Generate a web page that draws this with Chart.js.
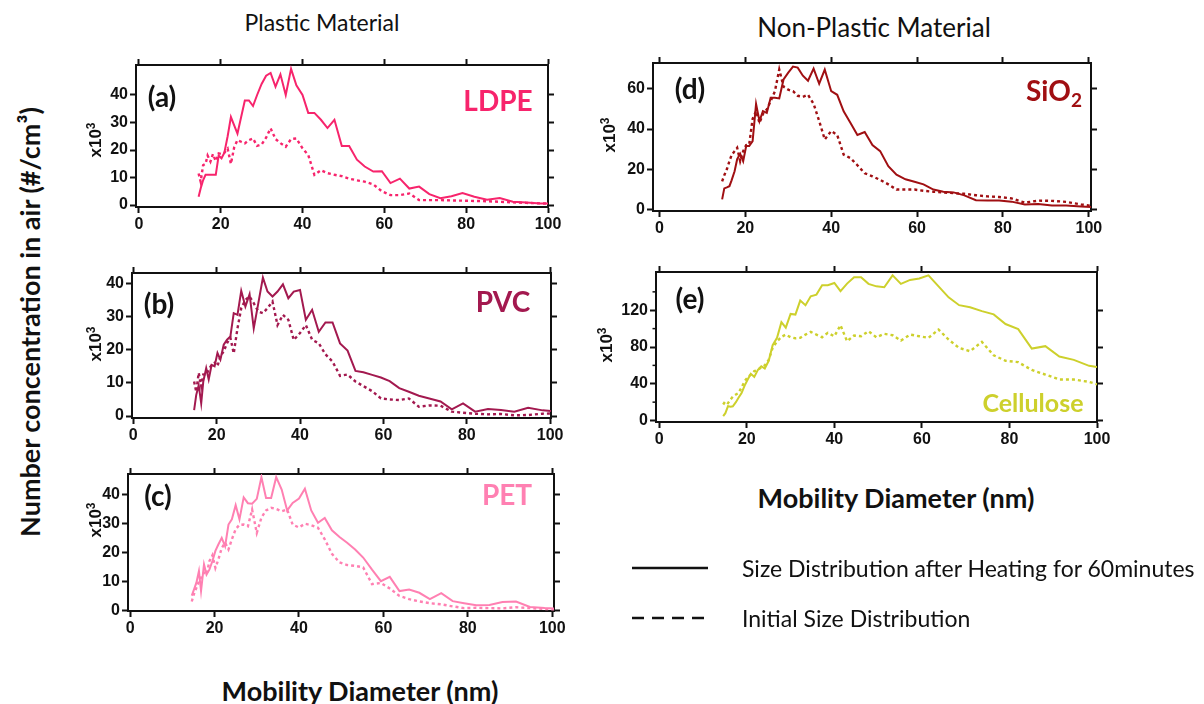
<!DOCTYPE html>
<html>
<head>
<meta charset="utf-8">
<script src="https://cdn.jsdelivr.net/npm/chart.js@4.4.0/dist/chart.umd.min.js"></script>
<style>
  body { margin: 0; background: #fff; }
  #page { position: relative; width: 1204px; height: 704px; overflow: hidden; font-family: Lato, "Open Sans", sans-serif; }
  canvas { position: absolute; }
  .txt { position: absolute; white-space: nowrap; transform: translate(-50%, -50%); color: #111; }
  .rot { transform: translate(-50%, -50%) rotate(-90deg); }
  .head { font-size: 26px; }
  .big { font-size: 27px; font-weight: bold; }
  .tag { font-size: 28px; font-weight: bold; }
  .unit { font-family: "Liberation Sans", Arial, sans-serif; font-weight: bold; font-size: 17px; }
  .unit sup { font-size: 12px; }
  .leg { position: absolute; font-size: 23px; color: #111; transform: translateY(-50%); white-space: nowrap; }
</style>
</head>
<body>
<div id="page">
  <canvas id="chA"></canvas>
  <canvas id="chB"></canvas>
  <canvas id="chC"></canvas>
  <canvas id="chD"></canvas>
  <canvas id="chE"></canvas>

  <div class="txt head" style="left:322px;top:22px;font-size:23px">Plastic Material</div>
  <div class="txt head" style="left:874px;top:27px">Non-Plastic Material</div>
  <div class="txt big rot" style="left:29px;top:322px">Number concentration in air (#/cm³)</div>
  <div class="txt big" style="left:360px;top:690px">Mobility Diameter (nm)</div>
  <div class="txt big" style="left:896px;top:497px">Mobility Diameter (nm)</div>

  <div class="txt unit rot" style="left:95px;top:140px">x10<sup>3</sup></div>
  <div class="txt unit rot" style="left:95px;top:344px">x10<sup>3</sup></div>
  <div class="txt unit rot" style="left:95px;top:520px">x10<sup>3</sup></div>
  <div class="txt unit rot" style="left:609px;top:135px">x10<sup>3</sup></div>
  <div class="txt unit rot" style="left:606px;top:345px">x10<sup>3</sup></div>

  <div class="txt tag" style="left:162px;top:96px">(a)</div>
  <div class="txt tag" style="left:498px;top:100px;color:#f7246c">LDPE</div>
  <div class="txt tag" style="left:159px;top:303px">(b)</div>
  <div class="txt tag" style="left:503px;top:301px;color:#a3194f">PVC</div>
  <div class="txt tag" style="left:158px;top:495px">(c)</div>
  <div class="txt tag" style="left:507px;top:494px;color:#ff80b2">PET</div>
  <div class="txt tag" style="left:690px;top:88px">(d)</div>
  <div class="txt tag" style="left:1054px;top:92px;color:#a00f12">SiO<sub style="font-size:19px">2</sub></div>
  <div class="txt tag" style="left:690px;top:298px">(e)</div>
  <div class="txt tag" style="left:1033px;top:402px;color:#cdd02c;font-size:25px">Cellulose</div>

  <svg style="position:absolute;left:0;top:0" width="1204" height="704">
    <line x1="632" y1="568" x2="708" y2="568" stroke="#111" stroke-width="2.5"/>
    <line x1="632" y1="618" x2="708" y2="618" stroke="#111" stroke-width="2.5" stroke-dasharray="12,8"/>
  </svg>
  <div class="leg" style="left:742px;top:568px">Size Distribution after Heating for 60minutes</div>
  <div class="leg" style="left:742px;top:618px">Initial Size Distribution</div>
</div>

<script>
// SMPS bin mid-point diameters (nm)
const diam = [
  14.6, 15.1, 15.7, 16.3, 16.8, 17.5, 18.1, 18.8, 19.5, 20.2,
  20.9, 21.7, 22.5, 23.3, 24.1, 25.0, 25.9, 26.9, 27.9, 28.9,
  30.0, 31.1, 32.2, 33.4, 34.6, 35.9, 37.2, 38.5, 40.0, 41.4,
  42.9, 44.5, 46.1, 47.8, 49.6, 51.4, 53.3, 55.2, 57.3, 59.4,
  61.5, 63.8, 66.1, 68.5, 71.0, 73.7, 76.4, 79.1, 82.0, 85.1,
  88.2, 91.4, 94.7, 98.2, 101.8,
];

// number concentration, x10^3 #/cm3
const ldpeHeated = [
  3, 6, 9, 11, 11, 11, 11, 11, 18, 17,
  19, 25, 32, 29, 26, 32, 38, 38, 36, 40,
  44, 47, 48, 43, 47.5, 40, 49.5, 43.5, 40, 33.5,
  33.5, 31, 28, 31, 21.5, 21.5, 16.5, 14, 12.2, 12.3,
  8, 9.6, 6, 6.7, 4, 2.5, 3.2, 4.4, 3, 1.9,
  2.6, 1.2, 0.9, 0.6, 0.5,
];
const ldpeInitial = [
  11.5, 8.5, 14.5, 15, 18, 15.8, 18.5, 16, 18.8, 18.5,
  19, 20.5, 15, 21, 23.6, 23, 22.4, 23.6, 24.2, 21.5,
  22, 24.5, 27.9, 24, 22.5, 21.2, 24, 24.2, 20.6, 18.2,
  11, 12.7, 11.6, 11, 10.5, 9.6, 9, 8.5, 7.5, 5,
  3.6, 3.6, 4.2, 1.8, 1.8, 1.8, 1.7, 1.6, 1.5, 1.4,
  1.2, 1.0, 0.8, 0.6, 0.5,
];

const pvcHeated = [
  1.8, 6.3, 9.3, 3.8, 10.4, 14.4, 11, 15.4, 15, 19,
  17, 21.5, 23, 24, 31, 30.5, 37.7, 33, 36.7, 26.4,
  34, 41.7, 37.5, 36, 37.5, 39.7, 35.5, 37.5, 38, 29,
  32, 25.4, 28.2, 28.2, 21.9, 19.7, 13.6, 13.2, 12.4, 11.6,
  10.5, 8.4, 7.3, 6.1, 5.3, 4.4, 2, 3.8, 1.3, 2.1,
  1.8, 1.3, 2.5, 1.7, 1.4,
];
const pvcInitial = [
  10.4, 7.3, 13, 9, 12.5, 12.4, 14, 15.4, 16, 15,
  18, 19.5, 22, 23.6, 18.9, 26.4, 32.5, 35, 36, 34,
  31.5, 31, 32.5, 34.5, 27.4, 30.5, 29, 22.9, 25, 27.4,
  23, 21.9, 18.6, 16.4, 12.1, 12.5, 10.4, 9, 7.5, 5.3,
  5, 4.8, 5.3, 2.8, 3.2, 3.1, 1.3, 1, 0.7, 0.5,
  0.6, 0.2, 0.3, 0.7, 0.8,
];

const petHeated = [
  5, 7, 9.5, 13.5, 6.6, 15.8, 12.3, 14.1, 17, 20.5,
  22.7, 25, 22.1, 29.6, 31.4, 36.3, 31.4, 39, 37, 36.8,
  38.5, 46, 38.8, 38.8, 46, 41.7, 34.5, 37.1, 38.6, 42,
  34.5, 30.2, 31.9, 27.6, 25.3, 23.3, 21, 18.2, 14, 10,
  11.5, 6.6, 7.1, 6, 3.8, 5.9, 3.1, 2.4, 1.7, 1.8,
  2.8, 3, 1.1, 0.7, 0.5,
];
const petInitial = [
  3, 5.5, 7.7, 10, 11.2, 13, 12.3, 17, 19, 14.6,
  17.5, 21.5, 23.3, 21, 24.5, 28, 29.5, 29.6, 29, 34.8,
  26.7, 32, 34.5, 35.4, 35, 34.2, 34.8, 29.6, 28.6, 29.9,
  29.4, 28.5, 24.5, 19.5, 16.5, 15.6, 15.3, 14.8, 9, 9.4,
  7.5, 4.9, 3.8, 3, 2.4, 2, 1.3, 0.7, 0.8, 0.7,
  0.6, 1, 0.7, 0.4, 0.2,
];

const sio2Heated = [
  5, 10.5, 11, 11.6, 14.5, 19, 25, 27.7, 24, 31.5,
  31.5, 34, 52.5, 43.9, 48.9, 48, 55.5, 55.5, 55.2, 64.6,
  68, 71, 70.5, 66.5, 64, 70, 62.5, 69.5, 58.8, 57,
  48.8, 43, 37, 38.5, 32, 29, 21.5, 17.3, 15, 13.8,
  12.5, 9.9, 8.8, 8.5, 7, 4.6, 4.5, 4.5, 3.9, 2.5,
  2.7, 2, 2, 1.5, 1,
];
const sio2Initial = [
  14, 17, 20, 24, 27, 29, 30.7, 24, 29, 32,
  32.3, 45, 48.9, 43, 47.5, 49.7, 53.9, 58.8, 69.6, 61,
  59.5, 58.8, 56.5, 56, 57, 52.5, 44, 34.8, 39, 37,
  27.3, 25.5, 22, 18, 16.5, 14.7, 12.5, 9.9, 9.9, 9.9,
  9.3, 8.8, 8.5, 8.1, 7.8, 7.1, 6.5, 6.2, 5.5, 3.4,
  4.4, 4.3, 3.8, 2.5, 1.5,
];

const celluloseHeated = [
  4.7, 8, 15.6, 15, 15.5, 20, 24.7, 30, 38, 44.6,
  50.8, 47.5, 55, 59.1, 56.6, 65, 82, 90, 107, 101,
  116, 115.3, 130.5, 125.5, 135.2, 137, 147.2, 147.2, 149.7, 140.7,
  149, 156, 156, 148.7, 146, 145, 158, 148.7, 153, 154.5,
  158, 146, 134, 125.5, 123.3, 119, 115.5, 105, 99.5, 78.3,
  80.9, 69.7, 66, 59.5, 57,
];
const celluloseInitial = [
  17.4, 21, 19, 23, 26, 28.3, 30, 36, 42.8, 47,
  50, 53.7, 55, 58, 60, 66, 79, 86, 91, 93.5,
  90.6, 89.5, 90, 93.5, 96.4, 93.5, 90.6, 95.4, 91.7, 103.7,
  86.3, 92.5, 91.7, 97.2, 90.6, 94.3, 92.8, 87, 93.5, 91.7,
  89.9, 99, 88.1, 79, 75.4, 85.6, 71, 65, 63.5, 55,
  50, 44.6, 44.6, 42, 37,
];

// tick labels
const xTicks = [0, 20, 40, 60, 80, 100];
const yTicksA = [0, 10, 20, 30, 40];
const yTicksB = [0, 10, 20, 30, 40];
const yTicksC = [0, 10, 20, 30, 40];
const yTicksD = [0, 20, 40, 60];
const yTicksE = [0, 40, 80, 120];
const yMinorE = [20, 60, 100, 140];

const colors = {
  ldpe: "#f7246c",
  pvc: "#a3194f",
  pet: "#ff80b2",
  sio2: "#a00f12",
  cellulose: "#cdd02c",
};

Chart.defaults.font.family = "'Liberation Sans', Arial, sans-serif";
Chart.defaults.font.size = 16;
Chart.defaults.font.weight = "bold";
Chart.defaults.color = "#111";

const PAD_L = 50, PAD_R = 18, PAD_T = 14, PAD_B = 32;

const minorTicks = {
  id: "minorTicks",
  afterDraw(chart, args, opts) {
    if (!opts.values) return;
    const y = chart.scales.y;
    const ctx = chart.ctx;
    ctx.save();
    ctx.strokeStyle = "#111";
    ctx.lineWidth = 1.5;
    opts.values.forEach((v) => {
      const py = y.getPixelForValue(v);
      ctx.beginPath();
      ctx.moveTo(chart.chartArea.left, py);
      ctx.lineTo(chart.chartArea.left - 3.5, py);
      ctx.stroke();
    });
    ctx.restore();
  },
};

function axis(pos, min, max, ticks, size, showLabels) {
  return {
    type: "linear",
    position: pos,
    min: min,
    max: max,
    afterBuildTicks: (s) => {
      s.ticks = ticks.map((v) => ({ value: v }));
    },
    afterFit: (s) => {
      if (s.isHorizontal()) s.height = size;
      else s.width = size;
    },
    grid: {
      drawOnChartArea: false,
      drawTicks: true,
      tickLength: 6,
      tickWidth: 2,
      tickColor: "#111",
    },
    border: { display: true, color: "#111", width: 2 },
    ticks: { display: showLabels, padding: 2, maxRotation: 0, autoSkip: false },
  };
}

function makePanel(id, box, xr, yr, yTicks, heated, initial, color, minor) {
  const canvas = document.getElementById(id);
  const w = box.right - box.left + PAD_L + PAD_R;
  const h = box.bottom - box.top + PAD_T + PAD_B;
  canvas.width = w;
  canvas.height = h;
  canvas.style.left = box.left - PAD_L + "px";
  canvas.style.top = box.top - PAD_T + "px";
  canvas.style.width = w + "px";
  canvas.style.height = h + "px";

  return new Chart(canvas, {
    type: "line",
    data: {
      datasets: [
        {
          label: "Size Distribution after Heating for 60minutes",
          data: diam.map((d, i) => ({ x: d, y: heated[i] })),
          borderColor: color,
          borderWidth: 2,
          pointRadius: 0,
          tension: 0,
        },
        {
          label: "Initial Size Distribution",
          data: diam.map((d, i) => ({ x: d, y: initial[i] })),
          borderColor: color,
          borderWidth: 2.4,
          borderDash: [3, 3],
          pointRadius: 0,
          tension: 0,
        },
      ],
    },
    options: {
      responsive: false,
      animation: false,
      devicePixelRatio: 1,
      layout: { padding: 0 },
      scales: {
        x: axis("bottom", xr[0], xr[1], xTicks, PAD_B, true),
        xTop: axis("top", xr[0], xr[1], xTicks, PAD_T, false),
        y: axis("left", yr[0], yr[1], yTicks, PAD_L, true),
        yRight: axis("right", yr[0], yr[1], yTicks, PAD_R, false),
      },
      plugins: {
        legend: { display: false },
        tooltip: { enabled: false },
        minorTicks: { values: minor },
      },
    },
    plugins: [minorTicks],
  });
}

makePanel("chA", { left: 136, top: 65, right: 548, bottom: 207 }, [-0.7, 100], [-0.7, 50.9], yTicksA, ldpeHeated, ldpeInitial, colors.ldpe);
makePanel("chB", { left: 132, top: 273, right: 551, bottom: 418 }, [-0.3, 100.2], [-0.6, 43.1], yTicksB, pvcHeated, pvcInitial, colors.pvc);
makePanel("chC", { left: 128, top: 474, right: 554, bottom: 611 }, [-0.5, 100.4], [-0.3, 47.1], yTicksC, petHeated, petInitial, colors.pet);
makePanel("chD", { left: 653, top: 63, right: 1091, bottom: 211 }, [-1.5, 100.5], [-0.75, 72.8], yTicksD, sio2Heated, sio2Initial, colors.sio2);
makePanel("chE", { left: 656, top: 272, right: 1097, bottom: 422 }, [-0.75, 100], [-1.6, 161.6], yTicksE, celluloseHeated, celluloseInitial, colors.cellulose, yMinorE);
</script>
</body>
</html>
